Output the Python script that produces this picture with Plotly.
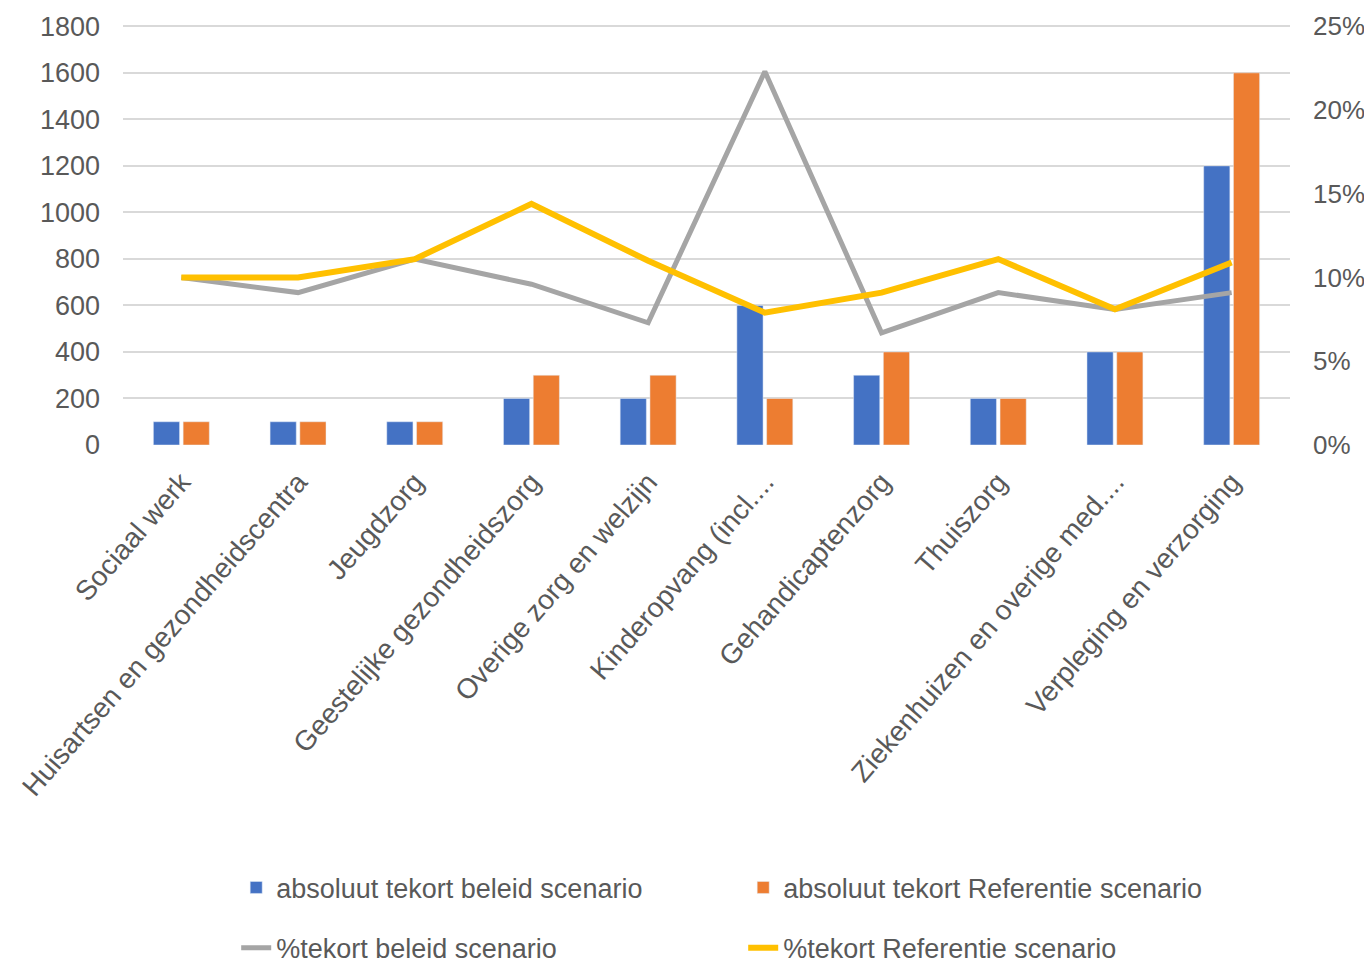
import plotly.graph_objects as go

categories = [
    "Sociaal werk",
    "Huisartsen en gezondheidscentra",
    "Jeugdzorg",
    "Geestelijke gezondheidszorg",
    "Overige zorg en welzijn",
    "Kinderopvang (incl....",
    "Gehandicaptenzorg",
    "Thuiszorg",
    "Ziekenhuizen en overige med....",
    "Verpleging en verzorging",
]
abs_beleid = [100, 100, 100, 200, 200, 600, 300, 200, 400, 1200]
abs_referentie = [100, 100, 100, 300, 300, 200, 400, 200, 400, 1600]
pct_beleid = [0.100, 0.091, 0.111, 0.096, 0.073, 0.223, 0.067, 0.091, 0.081, 0.091]
pct_referentie = [0.100, 0.100, 0.111, 0.144, 0.110, 0.079, 0.091, 0.111, 0.081, 0.109]

left_ticks = list(range(0, 1801, 200))
right_ticks = [0, 0.05, 0.10, 0.15, 0.20, 0.25]

FONT = "Liberation Sans"
TXT = "#595959"
Y_TOP = 1810  # small headroom so the 1800 gridline is drawn

fig = go.Figure()
fig.add_trace(go.Bar(x=categories, y=abs_beleid, name="absoluut tekort beleid scenario",
                     marker_color="#4472C4", legend="legend"))
fig.add_trace(go.Bar(x=categories, y=abs_referentie, name="absoluut tekort Referentie scenario",
                     marker_color="#ED7D31", legend="legend"))
fig.add_trace(go.Scatter(x=categories, y=pct_beleid, name="%tekort beleid scenario", yaxis="y2",
                         mode="lines", line=dict(color="#A5A5A5", width=5), legend="legend2"))
fig.add_trace(go.Scatter(x=categories, y=pct_referentie, name="%tekort Referentie scenario", yaxis="y2",
                         mode="lines", line=dict(color="#FFC000", width=6), legend="legend2"))

legend_common = dict(orientation="h", xanchor="left", yanchor="middle",
                     font=dict(family=FONT, size=27, color=TXT),
                     entrywidth=462, entrywidthmode="pixels",
                     bgcolor="rgba(0,0,0,0)", traceorder="normal")

fig.update_layout(
    width=1364, height=960,
    margin=dict(l=115, r=82, t=16, b=523, autoexpand=False),
    paper_bgcolor="white", plot_bgcolor="white",
    barmode="group", bargap=0.49, bargroupgap=0.12,
    font=dict(family=FONT, size=27, color=TXT),
    xaxis=dict(tickangle=-49, tickfont=dict(family=FONT, size=28, color=TXT), automargin=False,
               showgrid=False, showline=False, ticks="", ticklabelstandoff=14),
    yaxis=dict(range=[0, Y_TOP], tickvals=left_ticks, showgrid=True, gridcolor="#D9D9D9",
               gridwidth=1.5, zeroline=False, showline=False, ticks="", automargin=False,
               tickfont=dict(family=FONT, size=27, color=TXT), ticklabelstandoff=22),
    yaxis2=dict(range=[0, 0.25 * Y_TOP / 1800], tickvals=right_ticks, tickformat=".0%", overlaying="y",
                side="right", showgrid=False, zeroline=False, showline=False, ticks="",
                automargin=False,
                tickfont=dict(family=FONT, size=26, color=TXT), ticklabelstandoff=22),
    legend=dict(x=0.097, y=-1.052, **legend_common),
    legend2=dict(x=0.097, y=-1.195, **legend_common),
)

fig.write_html("out.html")
